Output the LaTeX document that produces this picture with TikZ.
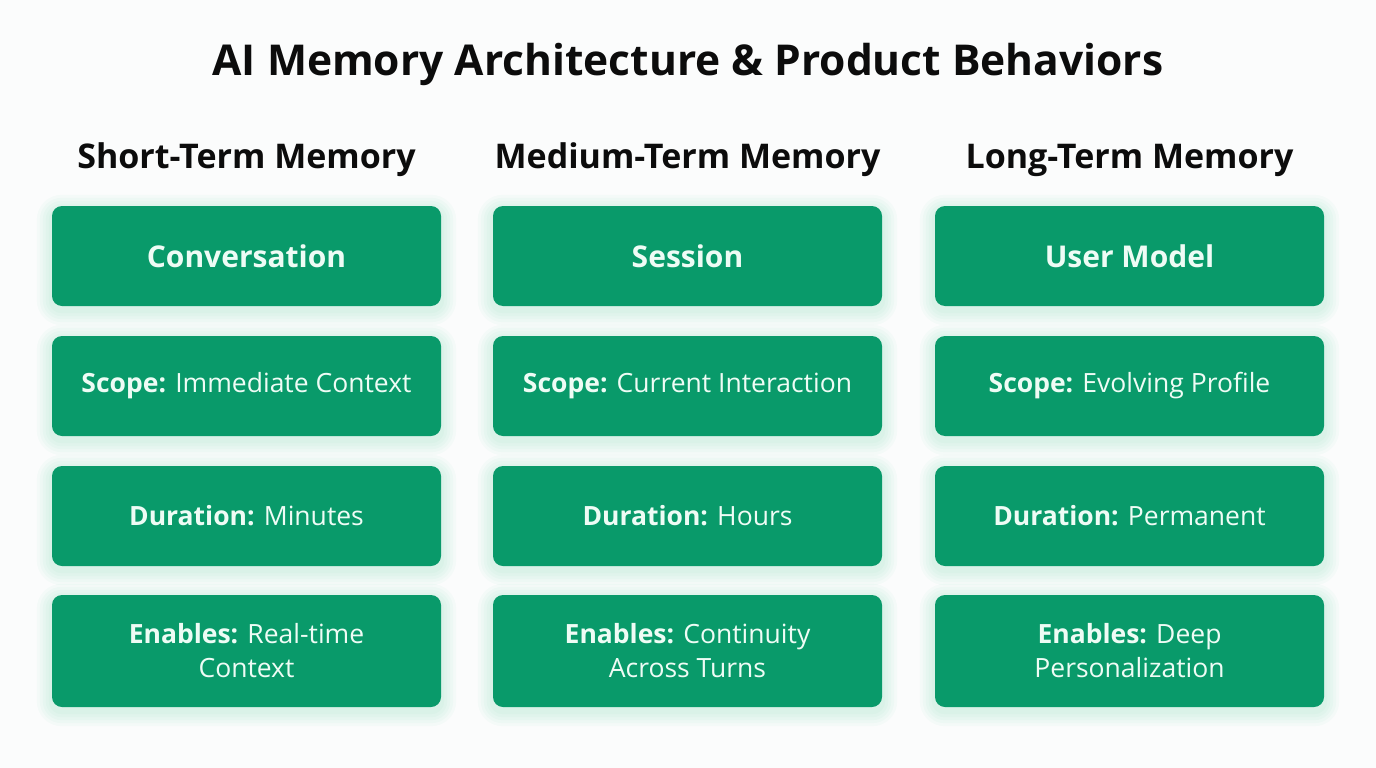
\documentclass[tikz,border=0pt]{standalone}
\usepackage{fontspec}
\setmainfont{Open Sans}
\usetikzlibrary{backgrounds}
\definecolor{bg}{RGB}{251,252,252}
\definecolor{boxgreen}{RGB}{9,154,106}
\definecolor{boxtext}{RGB}{238,252,245}
\definecolor{glow}{RGB}{40,190,130}
\definecolor{ink}{RGB}{12,12,12}
\begin{document}
\begin{tikzpicture}[x=1pt,y=-1pt,
  box/.style={rounded corners=10pt, fill=boxgreen, minimum width=389pt, minimum height=100pt,
    text=boxtext, align=center, inner sep=0pt, font=\fontsize{26.5}{34}\selectfont},
  tallbox/.style={box, minimum height=112pt},
  headbox/.style={box, font=\fontsize{30}{34}\selectfont\bfseries},
  colhead/.style={text=ink, font=\fontsize{34}{40}\selectfont\bfseries},
  maintitle/.style={text=ink, font=\fontsize{42.5}{50}\selectfont\bfseries}]
\useasboundingbox (0,0) rectangle (1376,768);
\node[maintitle] (title) at (688,64) {AI Memory Architecture \& Product Behaviors};

\node[colhead] (h1) at (246.5,160) {Short-Term Memory};
\node[colhead] (h2) at (687.5,160) {Medium-Term Memory};
\node[colhead] (h3) at (1129.5,160) {Long-Term Memory};

\node[headbox] (a1) at (246.5,256) {Conversation};
\node[headbox] (b1) at (687.5,256) {Session};
\node[headbox] (c1) at (1129.5,256) {User Model};

\node[box] (a2) at (246.5,386) {\textbf{Scope:} Immediate Context};
\node[box] (b2) at (687.5,386) {\textbf{Scope:} Current Interaction};
\node[box] (c2) at (1129.5,386) {\textbf{Scope:} Evolving Profile};

\node[box] (a3) at (246.5,516) {\textbf{Duration:} Minutes};
\node[box] (b3) at (687.5,516) {\textbf{Duration:} Hours};
\node[box] (c3) at (1129.5,516) {\textbf{Duration:} Permanent};

\node[tallbox] (a4) at (246.5,651) {\textbf{Enables:} Real-time\\Context};
\node[tallbox] (b4) at (687.5,651) {\textbf{Enables:} Continuity\\Across Turns};
\node[tallbox] (c4) at (1129.5,651) {\textbf{Enables:} Deep\\Personalization};

\begin{scope}[on background layer]
  \fill[bg] (0,0) rectangle (1376,768);
  \foreach \n in {a1,a2,a3,a4,b1,b2,b3,b4,c1,c2,c3,c4}{
    \foreach \d in {3,6,9,12,15}{
      \fill[glow, opacity=0.03, rounded corners=10pt+\d pt]
        ([xshift=-\d pt, yshift=-\d pt-4pt]\n.south west) rectangle ([xshift=\d pt, yshift=\d pt-4pt]\n.north east);
    }
  }
\end{scope}
\end{tikzpicture}
\end{document}
